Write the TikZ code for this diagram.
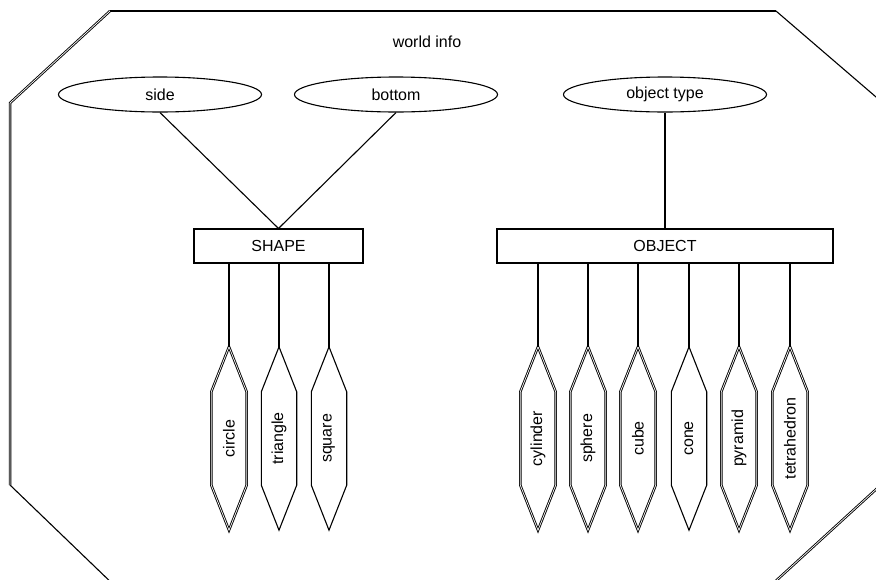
\documentclass[tikz,border=0pt]{standalone}
\usepackage{fontspec}
\setmainfont{Liberation Sans}
\usetikzlibrary{shapes.geometric}
\usetikzlibrary{positioning}

\tikzset{
  link/.style={line width=1.1pt},
  twin/.style={double, double distance=0.7pt, line width=0.9pt},
  every attr/.style={draw, ellipse, link, minimum width=203pt, minimum height=35pt, inner sep=0pt},
  every entity/.style={draw, rectangle, link, minimum height=34pt, inner sep=0pt},
  every value/.style={rectangle, minimum width=35pt, minimum height=183pt, inner sep=0pt},
  value circle/.style={twin},
  value cylinder/.style={twin},
  value sphere/.style={twin},
  value cube/.style={twin},
  value pyramid/.style={twin},
  value tetrahedron/.style={twin},
}

\begin{document}
\begin{tikzpicture}[x=1pt, y=-1pt, font=\fontsize{16}{19}\selectfont]

\useasboundingbox (0,0) rectangle (876,579);
\clip (0,0) rectangle (876,579);

% world frame
\coordinate (frame-1) at (110,11);
\coordinate (frame-2) at (776,11);
\coordinate (frame-3) at (883,103);
\coordinate (frame-4) at (883,483);
\coordinate (frame-5) at (767,589);
\coordinate (frame-6) at (118,589);
\coordinate (frame-7) at (10,485);
\coordinate (frame-8) at (10,103);

\draw [line width=2.6pt] (frame-1) -- (frame-2);
\draw [link] (frame-2) -- (frame-3) -- (frame-4);
\draw [twin] (frame-4) -- (frame-5);
\draw [link] (frame-5) -- (frame-6) -- (frame-7);
\draw [twin] (frame-7) -- (frame-8) -- (frame-1);

\node (world) at (427,42) {world info};

% attributes
\node [every attr/.try] (attr-side) at (160,94.5) {side};
\node [every attr/.try] (attr-bottom) at (396,94.5) {bottom};
\node [every attr/.try] (attr-type) at (665,94.5) {object type};

% entities
\node [every entity/.try, minimum width=169pt] (SHAPE) at (278.5,246) {SHAPE};
\node [every entity/.try, minimum width=336pt] (OBJECT) at (665,246) {OBJECT};

\draw [link] (attr-side.south) -- (SHAPE.north);
\draw [link] (attr-bottom.south) -- (SHAPE.north);
\draw [link] (attr-type.south) -- (OBJECT.north);

% values
\foreach \m/\x in {circle/229,triangle/279,square/329}
  \node [every value/.try] (value-\m) at (\x,438.5) {\rotatebox{90}{\m}};

\foreach \m/\x in {cylinder/538,sphere/588,cube/638,cone/689,pyramid/739,tetrahedron/790}
  \node [every value/.try] (value-\m) at (\x,438.5) {\rotatebox{90}{\m}};

\foreach \m in {circle,triangle,square,cylinder,sphere,cube,cone,pyramid,tetrahedron}
  \draw [link, value \m/.try] (value-\m.north)
    -- ([yshift=-45pt]value-\m.north east) -- ([yshift=45pt]value-\m.south east)
    -- (value-\m.south)
    -- ([yshift=45pt]value-\m.south west) -- ([yshift=-45pt]value-\m.north west) -- cycle;

\foreach \m in {circle,triangle,square}
  \draw [link] (value-\m.north |- SHAPE.south) -- (value-\m.north);

\foreach \m in {cylinder,sphere,cube,cone,pyramid,tetrahedron}
  \draw [link] (value-\m.north |- OBJECT.south) -- (value-\m.north);

\end{tikzpicture}
\end{document}
